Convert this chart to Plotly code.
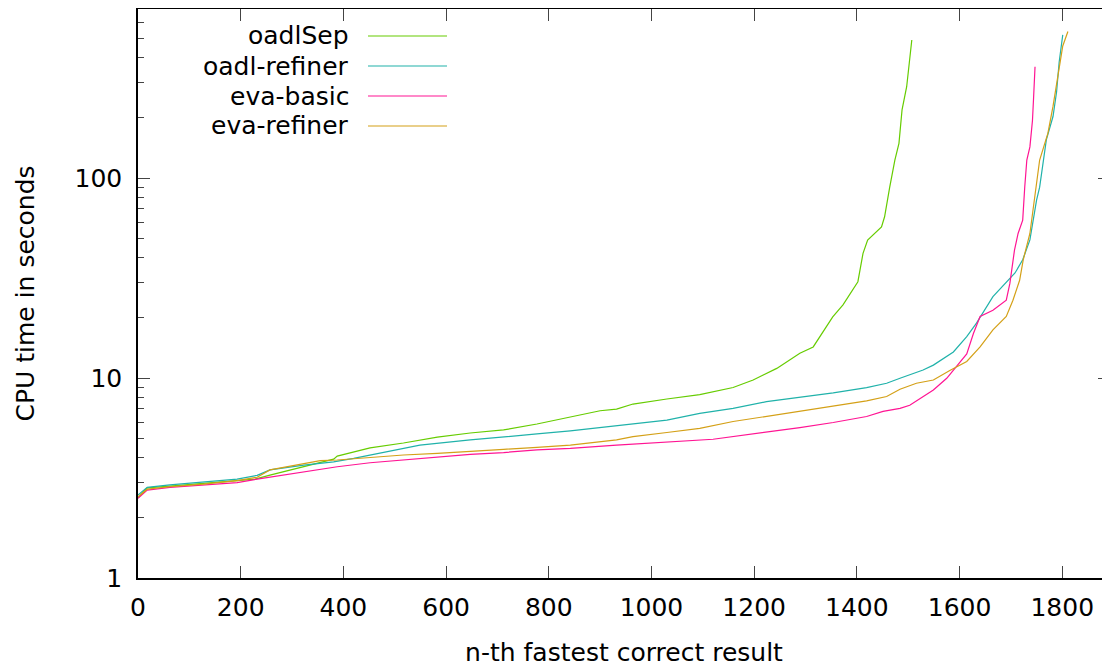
import plotly.graph_objects as go

# ---- data ----
series_names = ["oadlSep", "oadl-refiner", "eva-basic", "eva-refiner"]

oadlsep_x = [0, 18, 62, 128, 193, 228, 257, 303, 381, 388, 452, 517, 583, 647, 712, 777, 842, 900, 932,
             964, 1030, 1094, 1159, 1198, 1244, 1289, 1315, 1353, 1373, 1402, 1412, 1421, 1448, 1454,
             1464, 1474, 1482, 1488, 1497, 1501, 1507]
oadlsep_y = [2.52, 2.82, 2.88, 2.98, 3.08, 3.12, 3.27, 3.5, 3.93, 4.07, 4.47, 4.73, 5.06, 5.31, 5.5, 5.89,
             6.38, 6.86, 6.99, 7.41, 7.85, 8.26, 8.96, 9.77, 11.17, 13.3, 14.3, 20.2, 23.2, 30.3, 42, 49,
             57, 64, 90, 123, 149, 219, 286, 360, 490]

oadlref_x = [0, 18, 62, 128, 193, 232, 257, 323, 381, 420, 505, 549, 647, 712, 777, 842, 900, 964, 1030,
             1094, 1159, 1224, 1289, 1354, 1419, 1458, 1484, 1529, 1549, 1588, 1614, 1633, 1665, 1691,
             1708, 1723, 1737, 1750, 1756, 1769, 1782, 1789, 1794, 1801]
oadlref_y = [2.6, 2.84, 2.92, 3.01, 3.12, 3.26, 3.47, 3.67, 3.81, 3.96, 4.37, 4.62, 4.9, 5.05, 5.25, 5.44,
             5.65, 5.87, 6.16, 6.66, 7.05, 7.62, 7.99, 8.42, 8.96, 9.41, 9.97, 10.96, 11.6, 13.5, 16.1,
             18.8, 25.5, 30.3, 33.5, 39, 49, 77.6, 90, 155, 203, 270, 380, 520]

evabasic_x = [0, 18, 62, 128, 193, 232, 290, 323, 388, 452, 517, 583, 647, 712, 777, 842, 932, 1120, 1159,
              1224, 1289, 1354, 1419, 1451, 1484, 1503, 1529, 1549, 1575, 1594, 1614, 1627, 1640, 1665,
              1691, 1698, 1707, 1714, 1723, 1727, 1731, 1737, 1742, 1744, 1747]
evabasic_y = [2.5, 2.75, 2.84, 2.92, 3.0, 3.12, 3.3, 3.4, 3.6, 3.77, 3.89, 4.04, 4.15, 4.24, 4.37, 4.45,
              4.62, 4.94, 5.09, 5.38, 5.65, 5.99, 6.42, 6.81, 7.05, 7.31, 8.08, 8.71, 9.97, 11.5, 13.2,
              16.7, 20.3, 21.8, 24.5, 29.7, 43.6, 52.8, 61.6, 90.5, 123, 143, 194, 246, 360]

evaref_x = [0, 18, 62, 128, 193, 232, 257, 323, 355, 388, 452, 517, 583, 647, 712, 777, 842, 932, 964,
            1030, 1094, 1159, 1224, 1289, 1354, 1419, 1458, 1484, 1516, 1549, 1581, 1614, 1640, 1665,
            1691, 1704, 1717, 1724, 1737, 1746, 1756, 1766, 1772, 1782, 1788, 1795, 1801, 1811]
evaref_y = [2.55, 2.78, 2.86, 2.95, 3.07, 3.19, 3.47, 3.72, 3.86, 3.89, 4.01, 4.12, 4.2, 4.28, 4.4, 4.5,
            4.62, 4.9, 5.09, 5.34, 5.6, 6.06, 6.42, 6.86, 7.26, 7.68, 8.08, 8.78, 9.41, 9.77, 10.9, 12.1,
            14.3, 17.4, 20.3, 24.5, 30.8, 39, 52.8, 77.6, 123, 149, 167, 228, 286, 375, 457, 540]

x_tickvals = [0, 200, 400, 600, 800, 1000, 1200, 1400, 1600, 1800]
x_ticktext = ["0", "200", "400", "600", "800", "1000", "1200", "1400", "1600", "1800"]
y_tickvals = [1, 10, 100]
y_ticktext = ["1", "10", "100"]
y_minor_vals = [2, 3, 4, 5, 6, 7, 8, 9, 20, 30, 40, 50, 60, 70, 80, 90, 200, 300, 400, 500, 600, 700]

colors = ["#66cc00", "#20b2aa", "#ff1493", "#d4a017"]
FONT = "DejaVu Sans"

fig = go.Figure()
all_x = [oadlsep_x, oadlref_x, evabasic_x, evaref_x]
all_y = [oadlsep_y, oadlref_y, evabasic_y, evaref_y]
for name, xs, ys, c in zip(series_names, all_x, all_y, colors):
    fig.add_trace(go.Scatter(x=xs, y=ys, mode="lines", name=name, showlegend=False,
                             line=dict(color=c, width=1.2)))

# The page body has an 8px margin, so the figure starts at (8, 8) in the window.
OFF = 8
W, H = 1110 - OFF, 667 - OFF
L, R, T, B = 138 - OFF, 0, 9 - OFF, 89
pw, ph = W - L - R, H - T - B
def px(x):  # window pixel -> paper coordinate
    return (x - OFF - L) / pw
def py(y):
    return (H - B - (y - OFF)) / ph

# manual gnuplot-style legend (text right, sample line to its right)
for i, (name, c) in enumerate(zip(series_names, colors)):
    yc = 36 + 30 * i
    fig.add_annotation(x=px(351), y=py(yc), xref="paper", yref="paper", text=name,
                       showarrow=False, xanchor="right", yanchor="middle",
                       font=dict(family=FONT, size=25, color="black"))
    fig.add_shape(type="line", xref="paper", yref="paper", x0=px(368), x1=px(447),
                  y0=py(yc), y1=py(yc), line=dict(color=c, width=1.2))

fig.update_layout(
    width=W, height=H,
    margin=dict(l=L, r=R, t=T, b=B, autoexpand=False),
    plot_bgcolor="white", paper_bgcolor="white",
    font=dict(family=FONT, size=25, color="black"),
    showlegend=False,
)
fig.update_xaxes(
    range=[0, 1893], tickvals=x_tickvals, ticktext=x_ticktext, automargin=False,
    showgrid=False, zeroline=False, showline=True, linecolor="black", linewidth=1.5,
    mirror="ticks", ticks="inside", ticklen=12, tickwidth=1, tickcolor="#444",
    ticklabelstandoff=6,
    title=dict(text="n-th fastest correct result", font=dict(family=FONT, size=25), standoff=24),
)
fig.update_yaxes(
    type="log", range=[0, 2.845], tickvals=y_tickvals, ticktext=y_ticktext, automargin=False,
    showgrid=False, zeroline=False, showline=True, linecolor="black", linewidth=1.5,
    mirror="ticks", ticks="inside", ticklen=12, tickwidth=1, tickcolor="#444",
    ticklabelstandoff=9,
    minor=dict(tickvals=y_minor_vals, ticks="inside", ticklen=6, tickwidth=1, tickcolor="#444",
               showgrid=False),
    title=dict(text="CPU time in seconds", font=dict(family=FONT, size=25), standoff=33),
)

fig.write_html("out.html")
